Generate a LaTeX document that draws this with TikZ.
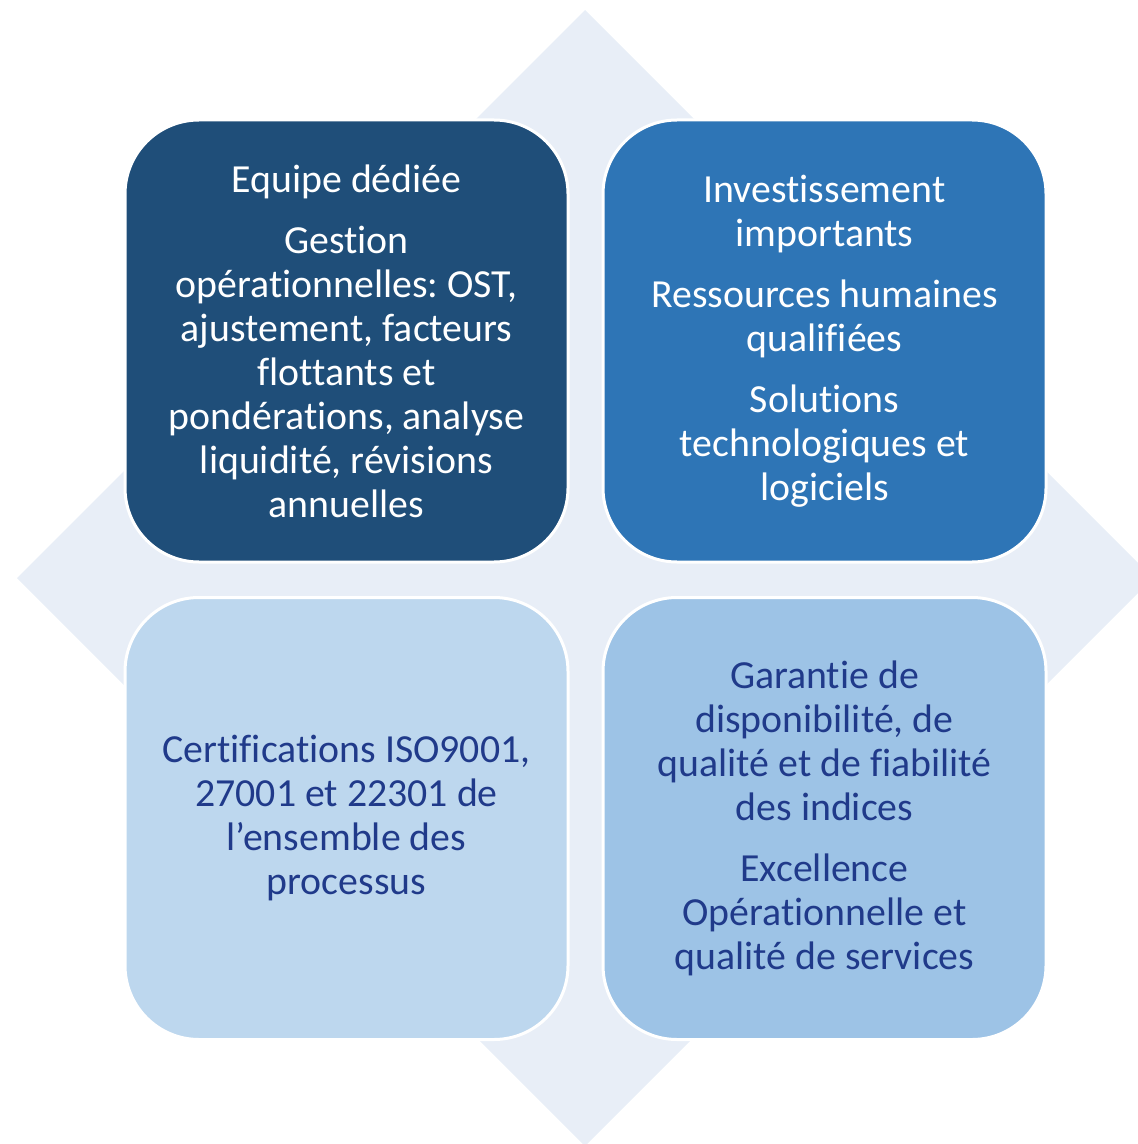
\documentclass[tikz,border=0pt]{standalone}
\usepackage{fontspec}
\setmainfont[Ligatures=NoCommon]{Carlito}
\frenchspacing
\definecolor{cTL}{HTML}{1F4E79}
\definecolor{cTR}{HTML}{2E75B6}
\definecolor{cBL}{HTML}{BDD7EE}
\definecolor{cBR}{HTML}{9DC3E6}
\definecolor{cDia}{HTML}{E8EEF7}
\definecolor{cTxt}{HTML}{203A8A}
\tikzset{
  box/.style={draw=white, line width=1.5pt, rounded corners=37pt,
    minimum width=221.5pt, minimum height=221pt, inner sep=0pt,
    align=center, font=\fontsize{19.9}{22}\selectfont\frenchspacing},
}
\begin{document}
\begin{tikzpicture}[x=0.5pt,y=-0.5pt]
\useasboundingbox (0,0) rectangle (1138,1144);
\fill[cDia] (585,10) -- (1153,578) -- (585,1146) -- (17,578) -- cycle;
\node[box, fill=cTL, text=white] (tl) at (346.5,341)
  {Equipe dédiée\\[8.5pt]Gestion\\opérationnelles: OST,\\ajustement, facteurs\\flottants et\\pondérations, analyse\\liquidité, révisions\\annuelles};
\node[box, fill=cTR, text=white] (tr) at (824.5,341)
  {Investissement\\importants\\[8.5pt]Ressources humaines\\qualifiées\\[8.5pt]Solutions\\technologiques et\\logiciels};
\node[box, fill=cBL, text=cTxt] (bl) at (346.5,818.5)
  {Certifications ISO9001,\\27001 et 22301 de\\l’ensemble des\\processus};
\node[box, fill=cBR, text=cTxt] (br) at (824.5,818.5)
  {Garantie de\\disponibilité, de\\qualité et de fiabilité\\des indices\\[8.5pt]Excellence\\Opérationnelle et\\qualité de services};
\end{tikzpicture}
\end{document}
